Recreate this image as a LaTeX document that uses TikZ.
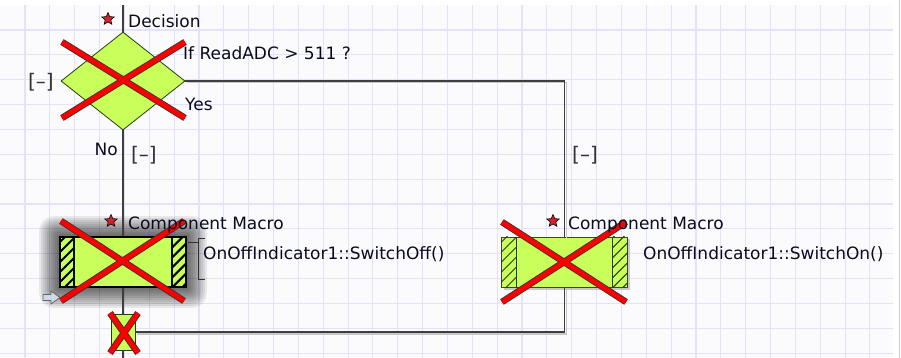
\documentclass[tikz,border=0pt]{standalone}
\usepackage{fontspec}
\setmainfont{DejaVu Sans}
\usetikzlibrary{shapes.geometric, positioning, calc, backgrounds}
\definecolor{gridline}{RGB}{226,226,248}
\definecolor{gridbg}{RGB}{251,251,253}
\definecolor{flowline}{RGB}{62,62,62}
\definecolor{lineshadow}{RGB}{200,200,200}
\definecolor{lime}{RGB}{200,255,90}
\definecolor{limeedge}{RGB}{40,60,20}
\definecolor{crossred}{RGB}{250,0,0}
\definecolor{starred}{RGB}{210,35,45}
\definecolor{labeltext}{RGB}{10,10,30}
\definecolor{foldgray}{RGB}{50,50,50}
\definecolor{arrowfill}{RGB}{205,218,232}

\tikzset{
  lbl/.style={font=\fontsize{17}{20}\selectfont, text=labeltext, inner sep=0pt, anchor=west},
  fold/.style={font=\fontsize{20}{22}\selectfont, text=foldgray, inner sep=0pt},
  flow/.style={draw=flowline, line width=1.4pt},
  flowshadow/.style={draw=lineshadow, line width=1.4pt, transform canvas={xshift=1.8pt, yshift=-1.8pt}},
  starmark/.style={star, star points=5, star point ratio=2.2, minimum size=13pt, inner sep=0pt,
                   fill=starred, draw=black, line width=0.6pt},
  decbox/.style={diamond, fill=lime, draw=limeedge, line width=0.8pt,
                 minimum width=124pt, minimum height=98pt, inner sep=0pt},
  macrobox/.style={rectangle, fill=lime, minimum width=126pt, minimum height=50pt, inner sep=0pt},
  joinbox/.style={rectangle, fill=lime, draw=limeedge, line width=0.8pt,
                  minimum width=24pt, minimum height=36pt, inner sep=0pt},
  crossedge/.style={draw=black!80, line width=6.6pt, line cap=butt},
  crossline/.style={draw=crossred, line width=5pt, line cap=butt},
  bracket/.style={draw=foldgray, line width=1pt}
}

\newcommand\hatchbars[3]{%
  \foreach \side/\dx in {west/15, east/-15} {
    \begin{scope}
      \clip (#1.north \side) rectangle ($(#1.south \side)+(\dx,0)$);
      \foreach \h in {-60,-50,...,70}
        \draw[#2, line width=#3] ($(#1.south \side)+(-25,\h)$) -- ++(50,-50);
    \end{scope}
    \draw[#2, line width=#3] ($(#1.north \side)+(\dx,0)$) -- ($(#1.south \side)+(\dx,0)$);
  }}

\newcommand\redcross[4]{%
  \draw[crossedge] (#1,#2) -- (#3,#4) (#1,#4) -- (#3,#2);
  \draw[crossline] (#1,#2) -- (#3,#4) (#1,#4) -- (#3,#2);}

\begin{document}
\begin{tikzpicture}[x=1pt, y=-1pt]
  \useasboundingbox (0,0) rectangle (901,358);

  \begin{scope}[on background layer]
    \fill[gridbg] (0,5) rectangle (893,358);
    \foreach \k in {0,...,34}
      \draw[gridline, line width=1.1pt] ({25+24.85*\k},5) -- ++(0,353);
    \foreach \k in {0,...,13}
      \draw[gridline, line width=1.1pt] (0,{30+24.85*\k}) -- (893,{30+24.85*\k});
    \draw[black!20, line width=1pt] (899,0) -- (899,358);
  \end{scope}

  \coordinate (top) at (123,5);
  \coordinate (bottom) at (123,358);

  \node[decbox] (dec) at (123,81) {};
  \node[macrobox, draw=black, line width=1.6pt] (offbox) at (123,262) {};
  \node[macrobox, draw=flowline, line width=0.8pt] (onbox) at (564.5,262) {};
  \node[joinbox] (join) at (123,332) {};

  \begin{scope}[on background layer]
    \foreach \g in {1,...,10}
      \fill[black, opacity=0.075, rounded corners=1.5*\g]
        ($(offbox.south west)+(-2*\g,2*\g)$) rectangle ($(offbox.north east)+(2*\g,-2*\g)$);
    \fill[black!35, opacity=0.6] ($(onbox.south west)+(2.5,2.5)$) rectangle ($(onbox.north east)+(2.5,2.5)$);
  \end{scope}

  \hatchbars{offbox}{black}{2pt}
  \hatchbars{onbox}{limeedge}{1pt}

  \draw[flowshadow] (dec.east) -| (onbox.north);
  \draw[flowshadow] (join.east) -| (onbox.south);
  \draw[flow] (top) -- (dec.north);
  \draw[flow] (dec.south) -- (offbox.north);
  \draw[flow] (offbox.south) -- (join.north);
  \draw[flow] (join.south) -- (bottom);
  \draw[flow] (dec.east) -| (onbox.north);
  \draw[flow] (join.east) -| (onbox.south);

  \redcross{62}{42}{185}{118}
  \redcross{61}{221}{184}{301}
  \redcross{502}{222}{626}{302}
  \redcross{110}{313}{138}{353}

  \node[starmark] (decstar) at (108,19) {};
  \node[starmark] (offstar) at (111,221) {};
  \node[starmark] (onstar) at (553,221) {};

  \node[lbl] (dectitle) at (128,21) {Decision};
  \node[lbl] (dectest) at (183,53) {If ReadADC > 511 ?};
  \node[lbl] (yes) at (185,104) {Yes};
  \node[lbl, anchor=east] (no) at (118,149) {No};
  \node[fold] (decfold) at (41,82) {[–]};
  \node[fold] (nofold) at (144,155) {[–]};
  \node[fold] (yesfold) at (585,155) {[–]};

  \node[lbl] (offtitle) at (128,225) {Component Macro};
  \node[lbl] (offtxt) at (203,254) {OnOffIndicator1::SwitchOff()};
  \node[lbl] (ontitle) at (568,225) {Component Macro};
  \node[lbl] (ontxt) at (643,254) {OnOffIndicator1::SwitchOn()};

  \draw[bracket] ($(offtxt.west)+(2,-16)$) -- ++(-7,0) -- ++(0,41) -- ++(7,0);
  \draw[bracket] ($(offbox.north east)+(1,6)$) -- ++(10,0);

  \draw[draw=black!60, fill=arrowfill, line width=0.8pt]
    (43,294.5) -- (51,294.5) -- (51,291) -- (60,297.5) -- (51,304) -- (51,300.5) -- (43,300.5) -- cycle;
\end{tikzpicture}
\end{document}
